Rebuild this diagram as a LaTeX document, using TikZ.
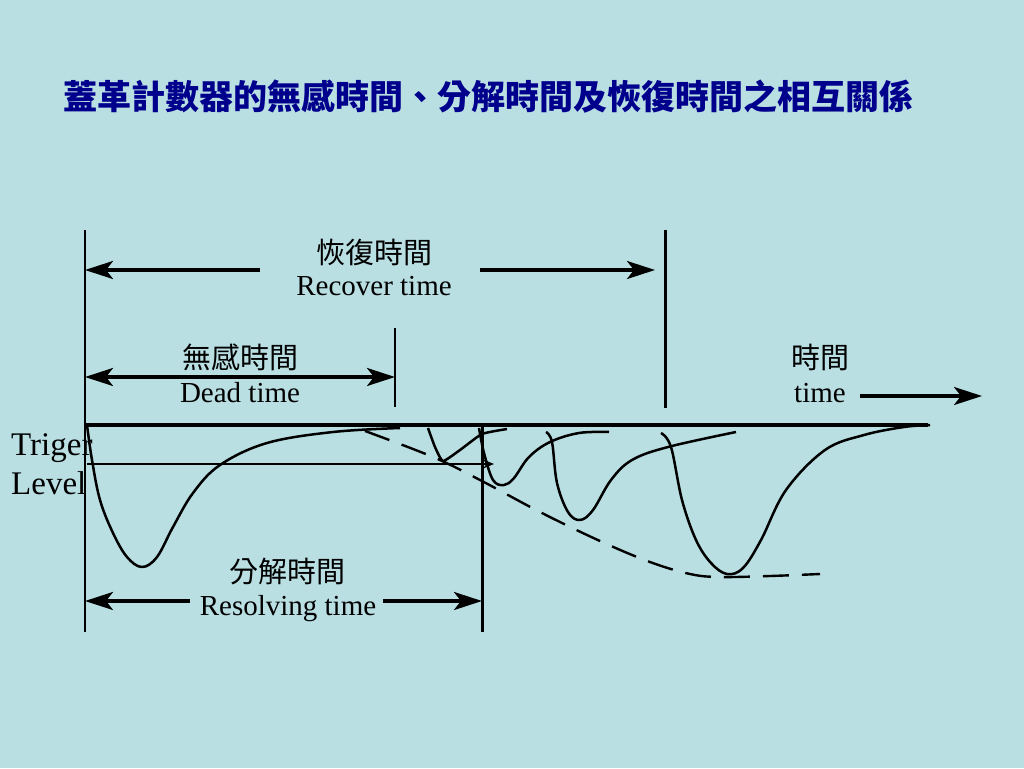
\documentclass[tikz,border=0pt]{standalone}
\usepackage{fontspec}
\usepackage{tkz-euclide}
\usetikzlibrary{arrows.meta}
\setmainfont{Liberation Serif}
\newfontfamily\cjk{Noto Sans CJK TC}
\definecolor{bgblue}{RGB}{185,223,227}
\definecolor{titleblue}{RGB}{0,0,140}
\tikzset{
  dimline/.style={line width=3.2pt,-{Stealth[length=28pt,width=18pt,inset=7pt]}},
  bothdim/.style={line width=3.2pt,{Stealth[length=28pt,width=18pt,inset=7pt]}-{Stealth[length=28pt,width=18pt,inset=7pt]}},
  pulse/.style={line width=2.5pt,line join=round,smooth,tension=0.6},
  envelope/.style={line width=2.4pt,dash pattern=on 26pt off 13pt,smooth,tension=0.6},
  zh/.style={font=\cjk\fontsize{29}{32}\selectfont,inner sep=0pt},
  en/.style={font=\fontsize{29}{32}\selectfont,inner sep=0pt,anchor=base}
}
\begin{document}
\begin{tikzpicture}[x=1pt,y=-1pt]
    \fill[bgblue] (0,0) rectangle (1024,768);
    \useasboundingbox (0,0) rectangle (1024,768);
    \tkzDefPoints{85/230/A, 85/632/B, 665/230/C, 665/408/D, 395/328/E, 395/407/F,
      482/425/G, 482/632/H, 85/425/O, 928/425/P, 87/464/T, 494/464/U}
    \tkzDefPoints{260/270/R1, 85/270/R2, 480/270/R3, 655/270/R4, 85/377/D1, 395/377/D2,
      190/601/S1, 85/601/S2, 383/601/S3, 482/601/S4, 860/396/K1, 982/396/K2}
    \node[text=titleblue,font=\cjk\bfseries\fontsize{34}{40}\selectfont,inner sep=0pt] (title) at (488,97)
      {蓋革計數器的無感時間、分解時間及恢復時間之相互關係};
    \draw[line width=1.8pt] (A) -- (B);
    \draw[line width=3pt] (C) -- (D);
    \draw[line width=2.8pt] (E) -- (F);
    \draw[line width=3pt] (G) -- (H);
    \draw[line width=3.2pt] (O) -- (P);
    \draw[line width=1.4pt,-{Stealth[length=11pt,width=9pt]}] (T) -- (U);
    \draw[dimline] (R1) -- (R2);
    \draw[dimline] (R3) -- (R4);
    \draw[bothdim] (D1) -- (D2);
    \draw[dimline] (S1) -- (S2);
    \draw[dimline] (S3) -- (S4);
    \draw[dimline] (K1) -- (K2);
    \node[zh] (reczh) at (374,252) {恢復時間};
    \node[en] (recen) at (374,295) {Recover time};
    \node[zh] (deadzh) at (240,357) {無感時間};
    \node[en] (deaden) at (240,402) {Dead time};
    \node[zh] (reszh) at (287,572) {分解時間};
    \node[en] (resen) at (288,615) {Resolving time};
    \node[zh] (timezh) at (820,357) {時間};
    \node[en] (timeen) at (820,402) {time};
    \node[font=\fontsize{33}{36}\selectfont,inner sep=0pt,anchor=base west] (trig) at (11,455) {Triger};
    \node[font=\fontsize{33}{36}\selectfont,inner sep=0pt,anchor=base west] (lev) at (11,494) {Level};
    \draw[pulse] plot coordinates {(87,425) (92,460) (100,500) (113,533) (127,557) (142,567) (157,557)
      (173,527) (193,493) (220,465) (267,443) (333,432) (400,428)};
    \draw[pulse,tension=0.3] plot coordinates {(428,428) (435,447) (443,461) (460,450) (482,434) (507,429)};
    \draw[pulse] plot coordinates {(479,428) (484,453) (493,480) (504,485) (514,478) (529,457) (550,442)
      (579,433) (609,432)};
    \draw[pulse] plot coordinates {(546,432) (552,442) (557,483) (568,512) (580,520) (593,510) (611,480)
      (632,460) (668,447) (736,432)};
    \draw[pulse] plot coordinates {(661,433) (671,447) (682,500) (696,540) (711,563) (727,574) (743,568)
      (761,540) (786,490) (825,450) (864,435) (904,427) (930,425)};
    \draw[envelope] plot coordinates {(365,431) (433,457) (480,480) (540,512) (600,541) (650,562)
      (690,574) (720,577) (770,576) (820,574)};
\end{tikzpicture}
\end{document}
